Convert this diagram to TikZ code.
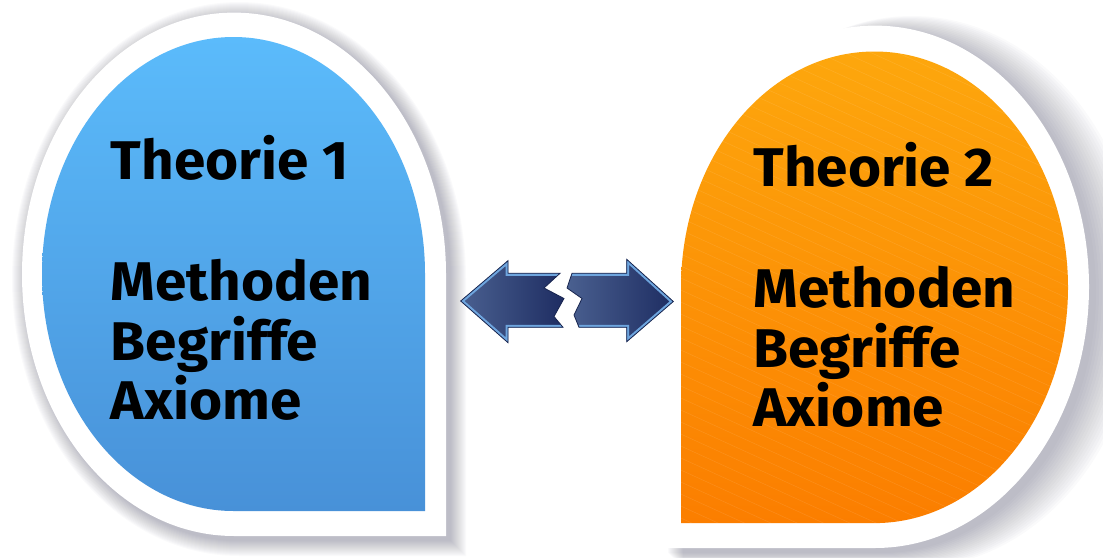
\documentclass[tikz,border=0pt]{standalone}
\usepackage{fontspec}
\setmainfont{Fira Sans}[FakeStretch=1.04]
\definecolor{shadowc}{RGB}{40,40,70}
\definecolor{blueT}{RGB}{91,187,251}
\definecolor{blueB}{RGB}{72,145,216}
\definecolor{orT}{RGB}{253,167,13}
\definecolor{orB}{RGB}{251,126,0}
\definecolor{arrL}{RGB}{74,96,144}
\definecolor{arrR}{RGB}{30,45,98}
\definecolor{arrEdge}{RGB}{110,165,222}
\definecolor{arrLine}{RGB}{25,38,80}
\newcommand\dropL[4]{(#1+#3,#2) arc[start angle=0,end angle=-180,x radius=#3,y radius=#4] arc[start angle=180,end angle=90,x radius=#3,y radius=#4] -- (#1+#3,#2+#4) -- cycle}
\newcommand\dropR[4]{(#1-#3,#2) arc[start angle=180,end angle=360,x radius=#3,y radius=#4] arc[start angle=0,end angle=90,x radius=#3,y radius=#4] -- (#1-#3,#2+#4) -- cycle}
\tikzset{
  txt/.style={inner sep=0pt, anchor=base west, font=\bfseries\fontsize{54.5}{60}\selectfont, text=black},
  shadowlayer/.style={fill=shadowc, opacity=0.02},
}
\begin{document}
\begin{tikzpicture}[x=1pt,y=-1pt]
\useasboundingbox[fill=white] (0,0) rectangle (1103,557);
% ---- shadows
\foreach \k in {1,...,16}{
  \fill[shadowlayer] \dropL{239}{279}{211+\k}{261+\k};
  \fill[shadowlayer] \dropR{880}{292}{213+\k}{260+\k};
}
% ---- white borders
\fill[white] \dropL{234}{274.3}{212}{261.7};
\fill[white] \dropR{875}{286.8}{214}{261.2};
% ---- coloured drops
\shade[top color=blueT, bottom color=blueB] \dropL{233.5}{274}{191.5}{237};
\shade[top color=orT, bottom color=orB] \dropR{874.5}{287.3}{193.5}{235.8};
\begin{scope}
  \clip \dropR{874.5}{287.3}{193.5}{235.8};
  \foreach \i in {-40,...,60}{
    \draw[white, opacity=0.10, line width=0.5pt] (650,\i*12) -- ++(450,205);
  }
\end{scope}
% ---- broken double arrow
\def\pieceL{(460.7,301) -- (508,260.7) -- (508,273.3) -- (560,273.3) -- (544,288) -- (564,298.5) -- (554,316.5) -- (563,327.3) -- (508,327.3) -- (508,342.7) -- cycle}
\def\pieceR{(673.3,301.5) -- (626.7,259.3) -- (626.7,273.3) -- (572,273.3) -- (567,288) -- (582,298.5) -- (574,315) -- (579,327.3) -- (626.7,327.3) -- (626.7,341.7) -- cycle}
\begin{scope}
  \clip \pieceL;
  \shade[left color=arrL, right color=arrR] \pieceL;
  \draw[arrEdge, line width=5pt, line join=miter] (560,273.3) -- (508,273.3) -- (508,260.7) -- (460.7,301) -- (508,342.7) -- (508,327.3) -- (563,327.3);
\end{scope}
\draw[arrLine, line width=0.8pt, line join=miter] \pieceL;
\begin{scope}
  \clip \pieceR;
  \shade[left color=arrL, right color=arrR] \pieceR;
  \draw[arrEdge, line width=5pt, line join=miter] (572,273.3) -- (626.7,273.3) -- (626.7,259.3) -- (673.3,301.5) -- (626.7,341.7) -- (626.7,327.3) -- (579,327.3);
\end{scope}
\draw[arrLine, line width=0.8pt, line join=miter] \pieceR;
% ---- texts
\node[txt] (t1) at (110.7,179.3) {Theorie 1};
\node[txt] (m1) at (110.7,300) {Methoden};
\node[txt] (b1) at (110.7,360) {Begriffe};
\node[txt] (a1) at (110.7,419.3) {Axiome};
\node[txt] (t2) at (753.3,186.7) {Theorie 2};
\node[txt] (m2) at (753.3,307.4) {Methoden};
\node[txt] (b2) at (753.3,367.4) {Begriffe};
\node[txt] (a2) at (753.3,426.7) {Axiome};
\end{tikzpicture}
\end{document}
